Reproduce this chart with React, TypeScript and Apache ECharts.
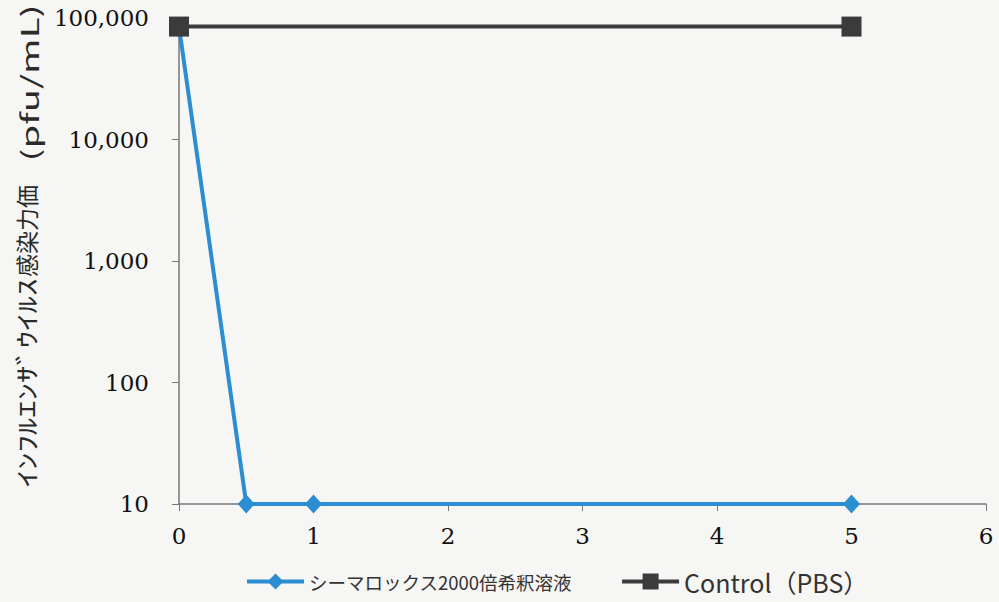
import React, { useEffect, useRef } from "react";
import * as echarts from "echarts";

const seriesNames = ["シーマロックス2000倍希釈溶液", "Control（PBS）"];
const cimaroxData: [number, number][] = [
  [0, 85000],
  [0.5, 10],
  [1, 10],
  [5, 10],
];
const controlData: [number, number][] = [
  [0, 85000],
  [5, 85000],
];
const yTitleKana = "ｲﾝﾌﾙｴﾝｻﾞｳｲﾙｽ";
const yTitleKanji = "感染力価";
const yTitleUnit = "(pfu/mL)";

export default function App() {
  const ref = useRef<HTMLDivElement>(null);
  useEffect(() => {
    if (!ref.current) return;
    const chart = echarts.init(ref.current, null, { renderer: "svg" });
    const titleFont = "Noto Sans CJK JP";
    chart.setOption({
      animation: false,
      backgroundColor: "#f6f6f4",
      grid: {
        left: 179,
        right: 13,
        top: 18,
        bottom: 98,
        containLabel: false,
        outerBoundsMode: "none",
      },
      graphic: [
        {
          type: "text",
          x: 26,
          y: 383,
          rotation: Math.PI / 2,
          scaleX: 1.45,
          style: {
            text: yTitleKana,
            fontFamily: titleFont,
            fontSize: 24,
            fill: "#2a2a2a",
            align: "center",
            verticalAlign: "middle",
          },
        },
        {
          type: "text",
          x: 26,
          y: 231,
          rotation: Math.PI / 2,
          style: {
            text: yTitleKanji,
            fontFamily: titleFont,
            fontSize: 23,
            fill: "#2a2a2a",
            align: "center",
            verticalAlign: "middle",
          },
        },
        {
          type: "text",
          x: 29,
          y: 83,
          rotation: Math.PI / 2,
          scaleX: 1.6,
          style: {
            text: yTitleUnit,
            fontFamily: titleFont,
            fontSize: 24,
            fill: "#2a2a2a",
            align: "center",
            verticalAlign: "middle",
          },
        },
      ],
      legend: {
        left: 240,
        bottom: 3,
        itemWidth: 57,
        itemHeight: 20,
        itemGap: 48,
        lineStyle: { width: 4 },
        textStyle: {
          fontFamily: "Noto Sans CJK JP",
          fontSize: 18.5,
          color: "#333",
        },
        data: [
          { name: seriesNames[0], textStyle: { fontSize: 18.5 } },
          { name: seriesNames[1], textStyle: { fontSize: 25 } },
        ],
      },
      xAxis: {
        type: "value",
        min: 0,
        max: 6,
        interval: 1,
        splitLine: { show: false },
        axisLine: { show: true, lineStyle: { color: "#777", width: 1.5 } },
        axisTick: { show: true, length: 7, lineStyle: { color: "#777" } },
        axisLabel: {
          fontFamily: "DejaVu Serif",
          fontSize: 23,
          color: "#111",
          margin: 20,
        },
      },
      yAxis: {
        type: "log",
        logBase: 10,
        min: 10,
        max: 100000,
        splitLine: { show: false },
        axisLine: { show: true, lineStyle: { color: "#777", width: 1.5 } },
        axisTick: { show: true, length: 7, lineStyle: { color: "#777" } },
        axisLabel: {
          fontFamily: "DejaVu Serif",
          fontSize: 23,
          color: "#111",
          margin: 30,
          formatter: (v: number) => Math.round(v).toLocaleString("en-US"),
        },
      },
      series: [
        {
          name: seriesNames[0],
          type: "line",
          data: cimaroxData,
          symbol: "diamond",
          symbolSize: [17, 19],
          lineStyle: { color: "#2b8ed2", width: 4 },
          itemStyle: { color: "#2b8ed2" },
          z: 2,
        },
        {
          name: seriesNames[1],
          type: "line",
          data: controlData,
          symbol: "rect",
          symbolSize: 20,
          lineStyle: { color: "#3b3b3d", width: 4 },
          itemStyle: { color: "#3b3b3d" },
          z: 3,
        },
      ],
    });
    return () => chart.dispose();
  }, []);
  return <div ref={ref} style={{ width: 999, height: 602, position: "absolute", left: 0, top: 0 }} />;
}
